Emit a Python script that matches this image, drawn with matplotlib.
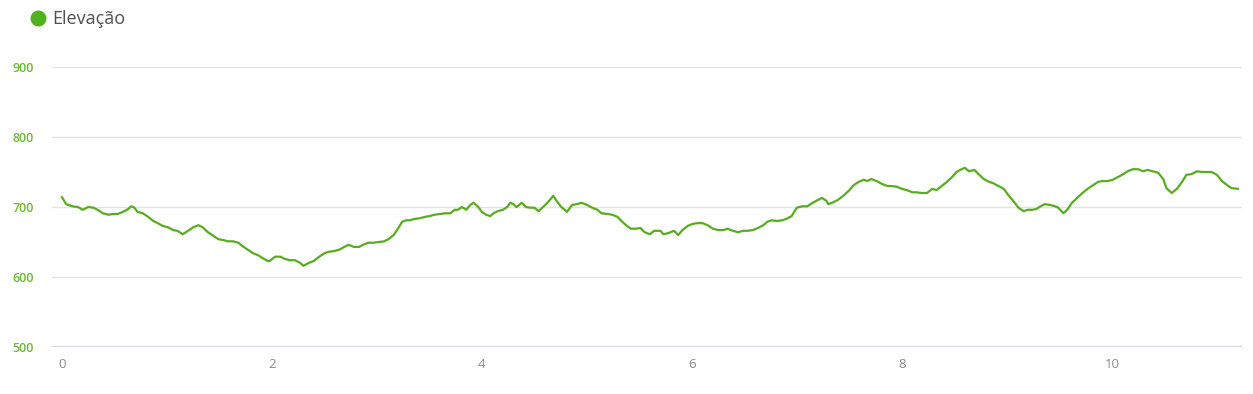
import matplotlib
matplotlib.use("Agg")
import matplotlib.pyplot as plt
from matplotlib.lines import Line2D

plt.rcParams['font.family'] = ['Open Sans', 'DejaVu Sans']

distance_km = [0.00, 0.04, 0.10, 0.15, 0.20, 0.25, 0.30, 0.34, 0.39, 0.44, 0.49, 0.53, 0.58, 0.63, 0.66,
               0.69, 0.72, 0.77, 0.82, 0.87, 0.91, 0.96, 1.01, 1.06, 1.10, 1.15, 1.20, 1.25, 1.30, 1.34,
               1.39, 1.44, 1.49, 1.53, 1.58, 1.63, 1.68, 1.72, 1.77, 1.82, 1.87, 1.91, 1.96, 1.98, 2.03,
               2.08, 2.12, 2.17, 2.22, 2.27, 2.30, 2.35, 2.40, 2.45, 2.50, 2.54, 2.59, 2.64, 2.69, 2.73,
               2.78, 2.83, 2.88, 2.92, 2.97, 3.02, 3.07, 3.11, 3.16, 3.20, 3.24, 3.28, 3.31, 3.36, 3.41,
               3.46, 3.50, 3.55, 3.60, 3.65, 3.70, 3.74, 3.77, 3.81, 3.85, 3.89, 3.92, 3.96, 4.00, 4.04,
               4.08, 4.11, 4.15, 4.20, 4.24, 4.27, 4.30, 4.33, 4.38, 4.42, 4.46, 4.50, 4.54, 4.59, 4.63,
               4.68, 4.71, 4.75, 4.81, 4.86, 4.90, 4.95, 5.00, 5.05, 5.10, 5.14, 5.20, 5.24, 5.29, 5.33,
               5.38, 5.42, 5.47, 5.51, 5.55, 5.60, 5.64, 5.70, 5.73, 5.78, 5.83, 5.87, 5.91, 5.96, 6.01,
               6.06, 6.10, 6.15, 6.20, 6.25, 6.30, 6.34, 6.39, 6.44, 6.49, 6.53, 6.58, 6.63, 6.68, 6.72,
               6.76, 6.81, 6.86, 6.90, 6.95, 7.00, 7.05, 7.10, 7.15, 7.20, 7.24, 7.28, 7.30, 7.35, 7.40,
               7.45, 7.50, 7.54, 7.59, 7.64, 7.67, 7.71, 7.76, 7.81, 7.86, 7.90, 7.95, 8.00, 8.05, 8.10,
               8.14, 8.19, 8.24, 8.29, 8.33, 8.38, 8.43, 8.48, 8.52, 8.57, 8.60, 8.64, 8.69, 8.73, 8.78,
               8.83, 8.87, 8.92, 8.97, 9.02, 9.07, 9.11, 9.16, 9.20, 9.24, 9.28, 9.31, 9.36, 9.41, 9.46,
               9.49, 9.54, 9.58, 9.62, 9.67, 9.72, 9.77, 9.82, 9.87, 9.91, 9.96, 10.01, 10.06, 10.10, 10.15,
               10.20, 10.25, 10.30, 10.34, 10.39, 10.44, 10.49, 10.52, 10.57, 10.62, 10.67, 10.71, 10.76,
               10.81, 10.86, 10.90, 10.95, 11.00, 11.05, 11.10, 11.14, 11.20]

elevation_m = [714, 704, 701, 700, 696, 700, 699, 696, 691, 689, 690, 690, 693, 697, 701,
               699, 693, 691, 686, 680, 677, 673, 671, 667, 666, 661, 666, 671, 674, 671,
               664, 659, 654, 653, 651, 651, 649, 644, 639, 634, 631, 627, 623, 623, 629,
               629, 626, 624, 624, 620, 616, 620, 623, 629, 634, 636, 637, 639, 643, 646,
               643, 643, 647, 649, 649, 650, 651, 654, 660, 669, 679, 681, 681, 683, 684,
               686, 687, 689, 690, 691, 691, 696, 696, 700, 696, 703, 706, 701, 693, 689,
               687, 691, 694, 696, 700, 706, 704, 700, 706, 700, 699, 699, 694, 701, 707,
               716, 709, 701, 693, 703, 704, 706, 703, 699, 696, 691, 690, 689, 686, 680,
               673, 669, 669, 670, 664, 661, 666, 666, 661, 663, 666, 660, 667, 673, 676,
               677, 677, 674, 669, 667, 667, 669, 666, 664, 666, 666, 667, 670, 674, 679,
               681, 680, 681, 683, 687, 699, 701, 701, 706, 710, 713, 709, 704, 707, 711,
               717, 724, 731, 736, 739, 737, 740, 737, 733, 730, 730, 729, 726, 724, 721,
               721, 720, 720, 726, 724, 730, 736, 743, 750, 754, 756, 751, 753, 747, 740,
               736, 734, 730, 726, 716, 707, 699, 694, 696, 696, 697, 700, 704, 703, 701,
               699, 691, 697, 706, 713, 720, 726, 731, 736, 737, 737, 739, 743, 746, 751,
               754, 754, 751, 753, 751, 749, 740, 727, 720, 726, 736, 746, 747,
               751, 750, 750, 750, 746, 737, 731, 727, 726]

y_ticks = [500, 600, 700, 800, 900]
x_ticks = [0, 2, 4, 6, 8, 10]
series_name = "Elevação"

W, H = 1253, 394
fig = plt.figure(figsize=(W / 100, H / 100), dpi=100)
ax_left, ax_right = 52, 1242
ax_top, ax_bottom = 67, 347
ax = fig.add_axes([ax_left / W, 1 - ax_bottom / H, (ax_right - ax_left) / W, (ax_bottom - ax_top) / H])

line_color = '#59ac1f'
ax.plot(distance_km, elevation_m, color=line_color, lw=1.6, solid_joinstyle='round', zorder=3)

ax.set_xlim(-0.095, 11.24)
ax.set_ylim(500, 900)
ax.set_yticks(y_ticks)
ax.set_xticks(x_ticks)
ax.set_xticklabels([str(t) for t in x_ticks])
ax.set_yticklabels([str(t) for t in y_ticks])

for v in y_ticks[1:]:
    ax.axhline(v, color='#e3e3e3', lw=1.0, zorder=1)
ax.axhline(500, color='#ccd6eb', lw=1.3, zorder=2)

for s in ax.spines.values():
    s.set_visible(False)

ax.tick_params(axis='y', length=0, pad=13, labelsize=9, labelcolor='#6cb83a')
ax.tick_params(axis='x', length=0, pad=8, labelsize=9.5, labelcolor='#8a8a8a')
for lab in ax.get_yticklabels():
    lab.set_fontweight('semibold')

# legend
fig.add_artist(Line2D([38 / W], [1 - 18 / H], marker='o', markersize=11.5, color='#52b01c',
                      markeredgewidth=0, linestyle='none', transform=fig.transFigure))
fig.text(52 / W, 1 - 19 / H, series_name, fontsize=13, color='#505050', va='center', ha='left')

fig.savefig('out.png', dpi=100)
